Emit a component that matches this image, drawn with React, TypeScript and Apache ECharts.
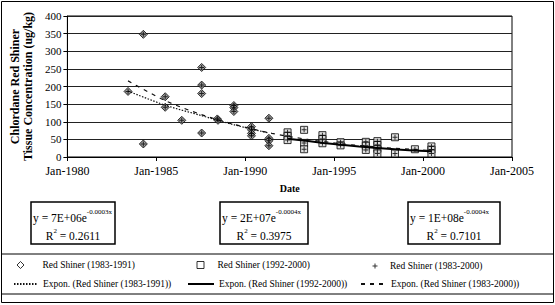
import React, { useEffect, useRef } from 'react';
import * as echarts from 'echarts';

const FONT = 'Liberation Serif, serif';

// Red Shiner (1983-1991): decimal year, concentration (ug/kg)
const s1Dates = [1983.41, 1984.27, 1984.27, 1985.5, 1985.5, 1986.43, 1987.55, 1987.55, 1987.55, 1987.55, 1988.43, 1988.47, 1989.36, 1989.36, 1989.36, 1990.35, 1990.35, 1990.35, 1990.35, 1991.33, 1991.33, 1991.33, 1991.33];
const s1Values = [186, 348, 37, 171, 141, 104, 254, 204, 180, 68, 108, 104, 146, 140, 129, 86, 77, 67, 60, 110, 53, 46, 32];

// Red Shiner (1992-2000)
const s2Dates = [1992.38, 1992.38, 1992.38, 1993.31, 1993.31, 1993.31, 1994.34, 1994.34, 1994.34, 1995.36, 1995.36, 1996.78, 1996.78, 1996.78, 1997.43, 1997.43, 1997.43, 1997.43, 1998.42, 1998.42, 1999.54, 2000.47, 2000.47, 2000.47];
const s2Values = [70, 60, 48, 77, 40, 22, 62, 51, 39, 42, 33, 43, 32, 20, 45, 34, 23, 10, 56, 10, 22, 30, 21, 10];

// Trend lines
const t1Dates = [1983.41, 1985.5, 1987.5, 1989.4, 1991.33];
const t1Values = [187, 147, 118, 91, 68];
const t2Dates = [1992.38, 1994.4, 1996.4, 1998.4, 2000.47];
const t2Values = [52, 40, 30, 22, 16];
const t3Dates = [1983.41, 1985.5, 1987.5, 1989.5, 1991.5, 1993.5, 1995.5, 1997.5, 2000.47];
const t3Values = [216, 160, 121, 91, 67, 50, 37, 28, 18];

const xTicks = [1980, 1985, 1990, 1995, 2000, 2005];

const names = [
  'Red Shiner (1983-1991)',
  'Red Shiner (1992-2000)',
  'Red Shiner (1983-2000)',
  'Expon. (Red Shiner (1983-1991))',
  'Expon. (Red Shiner (1992-2000))',
  'Expon. (Red Shiner (1983-2000))',
];

const eqCoef = ['7E+06', '2E+07', '1E+08'];
const eqExp = ['-0.0003x', '-0.0004x', '-0.0004x'];
const eqR2 = ['0.2611', '0.3975', '0.7101'];

const zip = (a: number[], b: number[]) => a.map((v, i) => [v, b[i]]);

const PLUS = 'path://M2,0H3V2H5V3H3V5H2V3H0V2H2Z';

export default function App() {
  const ref = useRef<HTMLDivElement>(null);
  useEffect(() => {
    document.body.style.margin = '0';
    if (!ref.current) return;
    const chart = echarts.init(ref.current, null, { renderer: 'svg' });

    const s1 = zip(s1Dates, s1Values);
    const s2 = zip(s2Dates, s2Values);
    const s3 = s1.concat(s2);

    const boxes = [
      { x: 31, w: 84 },
      { x: 220, w: 88 },
      { x: 408, w: 92 },
    ];
    const graphics: any[] = [
      { type: 'rect', shape: { x: 1.5, y: 1.5, width: 552, height: 301 }, style: { fill: 'none', stroke: '#000', lineWidth: 1 }, silent: true },
      { type: 'rect', shape: { x: 1.5, y: 254, width: 552, height: 40 }, style: { fill: 'none', stroke: '#000', lineWidth: 1 }, silent: true },
    ];
    boxes.forEach((b, i) => {
      graphics.push({ type: 'rect', shape: { x: b.x, y: 202, width: b.w, height: 42 }, style: { fill: '#fff', stroke: '#000', lineWidth: 1.5 } });
      graphics.push({
        type: 'text', x: b.x + 2, y: 218,
        style: {
          text: `{m|y = ${eqCoef[i]}e}{s|${eqExp[i]}}`,
          align: 'left', verticalAlign: 'middle',
          rich: {
            m: { fontSize: 11.5, fontFamily: FONT, fill: '#000', lineHeight: 20, verticalAlign: 'middle' },
            s: { fontSize: 7, fontFamily: FONT, fill: '#000', lineHeight: 8, verticalAlign: 'top' },
          },
        },
      });
      graphics.push({
        type: 'text', x: b.x + b.w / 2, y: 236,
        style: {
          text: `{m|R}{s|2}{m| = ${eqR2[i]}}`,
          align: 'center', verticalAlign: 'middle',
          rich: {
            m: { fontSize: 11.5, fontFamily: FONT, fill: '#000', lineHeight: 18, verticalAlign: 'middle' },
            s: { fontSize: 7, fontFamily: FONT, fill: '#000', lineHeight: 8, verticalAlign: 'top' },
          },
        },
      });
    });

    const legendText = { fontFamily: FONT, fontSize: 9.5, color: '#000' };
    const mkLegend = (name: string, left: number, top: number, w: number, h: number, pad: number, extra: any = {}) => ({
      data: [name], left, top, itemWidth: w, itemHeight: h, padding: 0, selectedMode: false,
      textStyle: { ...legendText, padding: [0, 0, 0, pad] }, ...extra,
    });
    const noDot = { itemStyle: { color: 'transparent', borderColor: 'transparent', borderWidth: 0, opacity: 0 } };
    const hollow = { itemStyle: { color: '#fff', borderColor: '#000', borderWidth: 1 } };

    const option: any = {
      animation: false,
      textStyle: { fontFamily: FONT },
      grid: { left: 65, right: 43, top: 16, bottom: 148, show: true, borderColor: '#000', borderWidth: 1, backgroundColor: 'transparent' },
      xAxis: {
        type: 'value', min: xTicks[0], max: xTicks[xTicks.length - 1], interval: 5,
        name: 'Date', nameLocation: 'middle', nameGap: 26,
        nameTextStyle: { fontFamily: FONT, fontWeight: 'bold', fontSize: 10, color: '#000' },
        axisLine: { show: true, onZero: false, lineStyle: { color: '#000', width: 1 } },
        axisTick: { show: true, inside: false, length: 4, lineStyle: { color: '#000' } },
        axisLabel: { formatter: (v: number) => 'Jan-' + v, fontFamily: FONT, fontSize: 12, color: '#000', margin: 8, showMinLabel: true, showMaxLabel: true },
        splitLine: { show: false },
      },
      yAxis: {
        type: 'value', min: 0, max: 400, interval: 50,
        name: 'Chlordane Red Shiner\nTissue Concentration (ug/kg)', nameLocation: 'middle', nameGap: 30, nameRotate: 90,
        nameTextStyle: { fontFamily: FONT, fontWeight: 'bold', fontSize: 12, color: '#000', lineHeight: 13 },
        axisLine: { show: true, lineStyle: { color: '#000', width: 1 } },
        axisTick: { show: true, inside: false, length: 4, lineStyle: { color: '#000' } },
        axisLabel: { fontFamily: FONT, fontSize: 11, color: '#000', margin: 6 },
        splitLine: { show: true, lineStyle: { color: '#222', width: 1 } },
      },
      legend: [
        mkLegend(names[0], 16.5, 260, 7, 7, 13.5, hollow),
        mkLegend(names[1], 196.5, 260, 7, 7, 8.5, hollow),
        mkLegend(names[2], 372.5, 261, 5, 5, 7.5),
        mkLegend(names[3], 13, 279, 24, 8, 0, noDot),
        mkLegend(names[4], 187, 279, 26, 8, 0, noDot),
        mkLegend(names[5], 360, 279, 25, 8, 0, noDot),
      ],
      graphic: graphics,
      series: [
        {
          name: names[0], type: 'scatter', data: s1, symbol: 'diamond', symbolSize: 8,
          itemStyle: { color: '#8a8a8a', borderColor: '#000', borderWidth: 1 }, z: 3,
        },
        {
          name: names[1], type: 'scatter', data: s2, symbol: 'rect', symbolSize: 7,
          itemStyle: { color: '#d8d8d8', borderColor: '#000', borderWidth: 1 }, z: 3,
        },
        {
          name: names[3], type: 'line', data: zip(t1Dates, t1Values), smooth: 0.3, symbol: 'none', showSymbol: false,
          itemStyle: { color: '#000' },
          lineStyle: { color: '#111', width: 1.2, type: [1.5, 1.5] }, z: 4,
        },
        {
          name: names[4], type: 'line', data: zip(t2Dates, t2Values), smooth: 0.3, symbol: 'none', showSymbol: false,
          itemStyle: { color: '#000' },
          lineStyle: { color: '#000', width: 2 }, z: 4,
        },
        {
          name: names[5], type: 'line', data: zip(t3Dates, t3Values), smooth: 0.3, symbol: 'none', showSymbol: false,
          itemStyle: { color: '#000' },
          lineStyle: { color: '#111', width: 1.2, type: [4, 5] }, z: 4,
        },
        {
          name: names[2], type: 'scatter', data: s3, symbol: PLUS, symbolSize: 5,
          itemStyle: { color: '#000' }, z: 5,
        },
      ],
    };
    chart.setOption(option);
    return () => chart.dispose();
  }, []);
  return <div ref={ref} style={{ width: 555, height: 305 }} />;
}
